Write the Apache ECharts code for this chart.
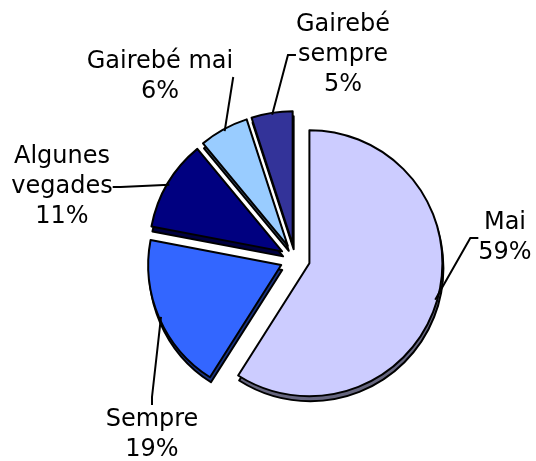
<!DOCTYPE html>
<html>
<head>
<meta charset="utf-8">
<script src="https://cdn.jsdelivr.net/npm/echarts@6/dist/echarts.min.js"></script>
<style>
html, body { margin: 0; padding: 0; background: #fff; }
#chart { width: 536px; height: 461px; }
</style>
</head>
<body>
<div id="chart"></div>
<script>
var categories = ['Mai', 'Sempre', 'Algunes vegades', 'Gairebé mai', 'Gairebé sempre'];
var labelTexts = ['Mai', 'Sempre', 'Algunes\nvegades', 'Gairebé mai', 'Gairebé\nsempre'];
var values = [59, 19, 11, 6, 5];
var colors = ['#ccccff', '#3366ff', '#000080', '#99ccff', '#333399'];
var shadowColors = ['#66667f', '#1a337f', '#000040', '#4c667f', '#1a1a4c'];

// where each label block is centred
var labelPos = [[505, 238], [152, 435], [62, 187], [160, 77], [343, 55]];

var chart = echarts.init(document.getElementById('chart'));

function slices(center, cols, z) {
    return {
        type: 'pie',
        silent: true,
        z: z,
        center: center,
        radius: 133,
        startAngle: 90,
        selectedMode: 'multiple',
        selectedOffset: 15,
        avoidLabelOverlap: false,
        itemStyle: { borderColor: '#000', borderWidth: 2 },
        label: { show: false },
        labelLine: { show: false },
        emphasis: { disabled: true },
        data: values.map(function (v, i) {
            return { name: categories[i], value: v, selected: true, itemStyle: { color: cols[i] } };
        })
    };
}

var option = {
    animation: false,
    series: [
        // dark rim under the slices (fake 3d edge)
        slices([296, 264], shadowColors, 1),
        slices([295, 259], colors, 2),
        {
            // invisible ring that only carries the labels + leader lines
            type: 'pie',
            silent: true,
            z: 3,
            center: [295, 259],
            radius: 146,
            startAngle: 90,
            avoidLabelOverlap: false,
            itemStyle: { color: 'rgba(0,0,0,0)', borderWidth: 0 },
            label: {
                show: true,
                position: 'outside',
                fontFamily: 'DejaVu Sans',
                fontSize: 24,
                lineHeight: 30,
                color: '#000',
                formatter: function (p) {
                    return labelTexts[p.dataIndex] + '\n' + p.value + '%';
                }
            },
            labelLine: {
                show: true,
                length: 10,
                length2: 8,
                lineStyle: { color: '#000', width: 2 }
            },
            labelLayout: function (p) {
                var c = labelPos[p.dataIndex];
                return { x: c[0], y: c[1], align: 'center', verticalAlign: 'middle' };
            },
            emphasis: { disabled: true },
            data: values.map(function (v) { return { value: v }; })
        }
    ]
};
chart.setOption(option);
</script>
</body>
</html>
